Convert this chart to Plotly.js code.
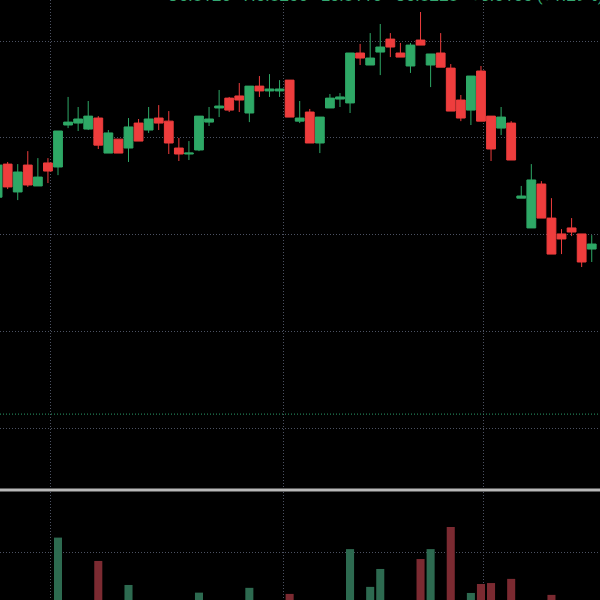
<!DOCTYPE html>
<html>
<head>
<meta charset="utf-8">
<script src="https://cdn.plot.ly/plotly-3.0.1.min.js"></script>
<style>html,body{margin:0;padding:0;background:#000;}#chart{width:600px;height:600px;}</style>
</head>
<body>
<div id="chart"></div>
<script>
// candle index (trading sessions)
const bars = [0,1,2,3,4,5,6,7,8,9,10,11,12,13,14,15,16,17,18,19,20,21,22,23,24,25,26,27,28,29,30,31,32,33,34,35,36,37,38,39,40,41,42,43,44,45,46,47,48,49,50,51,52,53,54,55,56,57,58,59];
const openP  = [0.8193,0.8364,0.8220,0.8359,0.8251,0.8370,0.8349,0.8566,0.8576,0.8545,0.8602,0.8421,0.8493,0.8447,0.8576,0.8540,0.8602,0.8586,0.8447,0.8416,0.8437,0.8581,0.8654,0.8705,0.8716,0.8628,0.8767,0.8742,0.8742,0.8798,0.8586,0.8633,0.8473,0.8654,0.8700,0.8680,0.8938,0.8876,0.8943,0.9010,0.8938,0.8871,0.9005,0.8876,0.8938,0.8860,0.8695,0.8643,0.8845,0.8612,0.8550,0.8576,0.8188,0.8034,0.8261,0.8085,0.8003,0.8034,0.8003,0.7925];
const highP  = [0.8385,0.8375,0.8364,0.8431,0.8395,0.8395,0.8535,0.8711,0.8659,0.8690,0.8612,0.8540,0.8493,0.8602,0.8597,0.8659,0.8669,0.8638,0.8499,0.8483,0.8612,0.8659,0.8747,0.8711,0.8783,0.8767,0.8819,0.8829,0.8798,0.8798,0.8690,0.8649,0.8607,0.8726,0.8731,0.8938,0.8985,0.9041,0.9088,0.9041,0.8990,0.8990,0.9150,0.8933,0.9041,0.8881,0.8721,0.8819,0.8871,0.8612,0.8659,0.8586,0.8251,0.8364,0.8276,0.8188,0.8028,0.8085,0.8003,0.7997];
const lowP   = [0.8178,0.8235,0.8178,0.8246,0.8251,0.8266,0.8307,0.8550,0.8535,0.8540,0.8442,0.8421,0.8421,0.8375,0.8483,0.8525,0.8540,0.8416,0.8380,0.8385,0.8431,0.8561,0.8607,0.8633,0.8633,0.8581,0.8711,0.8711,0.8711,0.8607,0.8576,0.8473,0.8421,0.8654,0.8659,0.8628,0.8876,0.8876,0.8824,0.8917,0.8917,0.8835,0.8979,0.8762,0.8865,0.8638,0.8586,0.8566,0.8586,0.8380,0.8514,0.8385,0.8188,0.8034,0.8085,0.7899,0.7899,0.7992,0.7832,0.7858];
const closeP = [0.8359,0.8246,0.8323,0.8256,0.8297,0.8328,0.8535,0.8581,0.8597,0.8612,0.8462,0.8525,0.8421,0.8556,0.8483,0.8597,0.8576,0.8473,0.8416,0.8421,0.8612,0.8597,0.8664,0.8643,0.8695,0.8767,0.8742,0.8752,0.8752,0.8607,0.8602,0.8473,0.8607,0.8705,0.8711,0.8938,0.8912,0.8912,0.8969,0.8969,0.8917,0.8979,0.8979,0.8933,0.8865,0.8638,0.8602,0.8819,0.8586,0.8442,0.8607,0.8385,0.8199,0.8282,0.8085,0.7899,0.7977,0.8013,0.7858,0.7951];
// volume, millions
const volume = [0.30,0.35,0.28,0.40,0.25,0.32,2.45,0.38,0.30,0.42,1.72,0.33,0.36,0.97,0.29,0.31,0.27,0.40,0.34,0.26,0.73,0.30,0.35,0.38,0.33,0.88,0.29,0.24,0.27,0.69,0.31,0.44,0.37,0.32,0.28,2.09,0.41,0.91,1.47,0.36,0.30,0.39,1.78,2.09,0.43,2.78,0.35,0.72,1.00,1.03,0.38,1.16,0.33,0.45,0.40,0.66,0.30,0.27,0.42,0.31];
const priceGrid = [0.70,0.75,0.80,0.85,0.90];
const volGrid = [2.0];
const sessionBreaks = [5.30,28.44,48.30];
const priceLine = 0.7072;
const headerText = 'O0.8120   H0.8250   L0.8110   C0.8228   +0.0105 (+1.29%)';

const UP = '#2ea866', DOWN = '#ee3d3d';
const UPV = '#2d6a50', DOWNV = '#7b2a31';
const GRID = '#4c5262';
const DOTS = '1px,2px';

const volColors = bars.map((b,i) => closeP[i] >= openP[i] ? UPV : DOWNV);

const traces = [
  {
    type: 'candlestick', x: bars, open: openP, high: highP, low: lowP, close: closeP,
    xaxis: 'x', yaxis: 'y', hoverinfo: 'skip', whiskerwidth: 0,
    increasing: {line: {color: UP, width: 1}, fillcolor: UP},
    decreasing: {line: {color: DOWN, width: 1}, fillcolor: DOWN},
    showlegend: false
  },
  {
    type: 'bar', x: bars, y: volume, xaxis: 'x2', yaxis: 'y2',
    marker: {color: volColors, line: {width: 0}}, hoverinfo: 'skip', showlegend: false
  }
];

const xr = [0.24, 59.82];
const layout = {
  width: 600, height: 600,
  margin: {l: 0, r: 0, t: 0, b: 0},
  paper_bgcolor: '#000', plot_bgcolor: '#000',
  showlegend: false,
  boxgap: 0.08, boxgroupgap: 0.05, bargap: 0.2,
  xaxis: {domain: [0,1], range: xr, anchor: 'y', tickvals: sessionBreaks, showticklabels: false,
    showgrid: true, gridcolor: GRID, griddash: DOTS, gridwidth: 1, zeroline: false,
    showline: false, ticks: '', rangeslider: {visible: false}},
  yaxis: {domain: [0.185, 1], range: [0.6685, 0.9212], tickvals: priceGrid, showticklabels: false,
    showgrid: true, gridcolor: GRID, griddash: DOTS, gridwidth: 1, zeroline: false, showline: false, ticks: ''},
  xaxis2: {domain: [0,1], range: xr, anchor: 'y2', matches: 'x', tickvals: sessionBreaks, showticklabels: false,
    showgrid: true, gridcolor: GRID, griddash: DOTS, gridwidth: 1, zeroline: false, showline: false, ticks: '',
    rangeslider: {visible: false}},
  yaxis2: {domain: [0, 0.18], range: [0.5, 3.875], tickvals: volGrid, showticklabels: false,
    showgrid: true, gridcolor: GRID, griddash: DOTS, gridwidth: 1, zeroline: false, showline: false, ticks: ''},
  shapes: [
    {type: 'line', xref: 'paper', x0: 0, x1: 1, yref: 'y', y0: priceLine, y1: priceLine,
     line: {color: '#2a9d6a', width: 1, dash: DOTS}},
    {type: 'line', xref: 'paper', x0: 0, x1: 1, yref: 'paper', y0: 0.1833, y1: 0.1833,
     line: {color: '#b8b8b8', width: 3}}
  ],
  annotations: [
    {xref: 'paper', yref: 'paper', x: 0.275, y: 0.9875, xanchor: 'left', yanchor: 'bottom',
     text: headerText, showarrow: false, font: {family: 'Roboto, sans-serif', size: 17, color: '#34a871'}}
  ]
};

Plotly.newPlot('chart', traces, layout, {staticPlot: true, displayModeBar: false});
</script>
</body>
</html>
